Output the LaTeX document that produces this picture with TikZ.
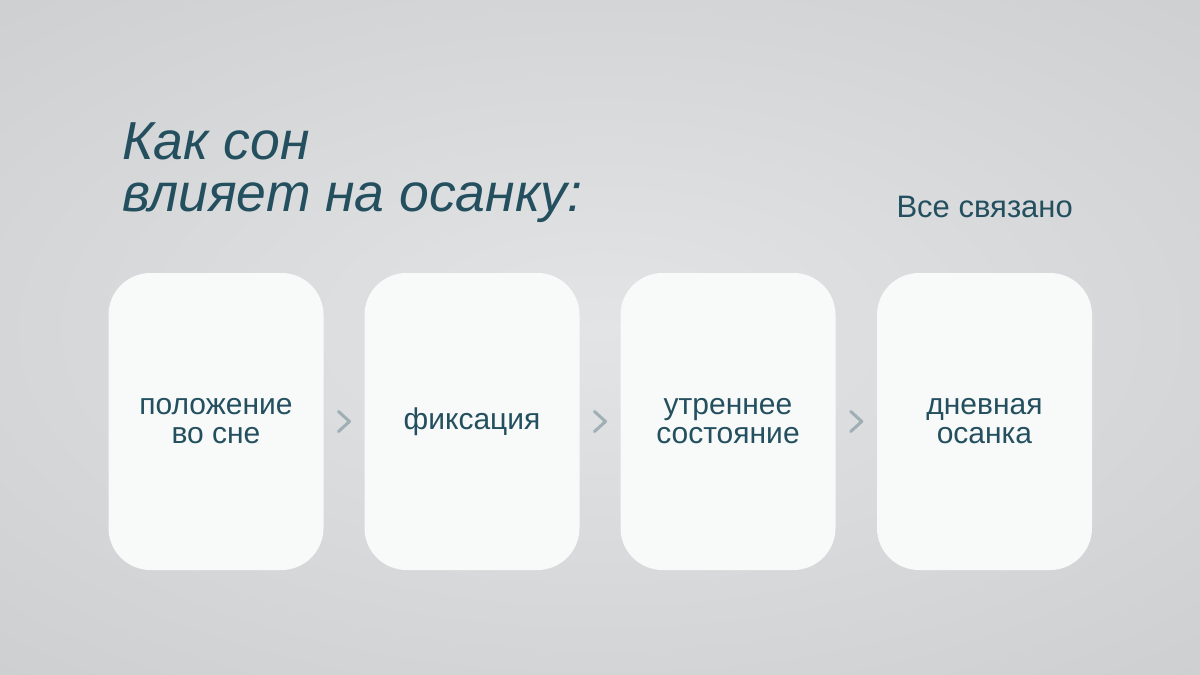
\documentclass[tikz,border=0pt]{standalone}
\usepackage{fontspec}
\setmainfont{Liberation Sans}
\usetikzlibrary{calc}
\definecolor{bgdark}{HTML}{C6C7C8}
\definecolor{bglight}{HTML}{E2E4E6}
\definecolor{cardwhite}{HTML}{F8F9F9}
\definecolor{inkteal}{HTML}{234F5F}
\definecolor{chevgrey}{HTML}{9EAFB5}
\begin{document}
\begin{tikzpicture}[x=1pt, y=-1pt,
    card/.style={fill=cardwhite, rounded corners=42pt, minimum width=215pt, minimum height=297pt,
                 inner sep=0pt, align=center, text=inkteal, font=\fontsize{30}{29}\selectfont},
    chevron/.style={draw=chevgrey, line width=3pt, line cap=round, line join=round}]
			%%%%% BACKGROUND %%%%%
			\useasboundingbox (0, 0) rectangle (1200, 675);
			\begin{scope}
				\clip (0, 0) rectangle (1200, 675);
				\fill[bgdark] (0, 0) rectangle (1200, 675);
				\shade[inner color=bglight, outer color=bgdark] (600, 330) ellipse (1250 and 640);
			\end{scope}
			
			%%%%% TITLE %%%%%
			\node[anchor=north west, inner sep=0pt, align=left, text=inkteal,
			      font=\fontsize{53.5}{52}\selectfont\itshape] (title) at (122, 122) {Как сон\\влияет на осанку:};
			\node[anchor=base east, inner sep=0pt, text=inkteal,
			      font=\fontsize{31}{31}\selectfont] (tagline) at (1073, 217) {Все связано};
			
			%%%%% CARDS %%%%%
			\node[card] (pos) at (216, 421.5) {положение\\во сне};
			\node[card] (fix) at (472, 421.5) {фиксация};
			\node[card] (morning) at (728, 421.5) {утреннее\\состояние};
			\node[card] (day) at (984.5, 421.5) {дневная\\осанка};
			
			%%%%% CHEVRONS %%%%%
			\draw[chevron] ($(pos.east)!0.5!(fix.west) + (-5.5, -10)$) -- ++(11, 10) -- ++(-11, 10);
			\draw[chevron] ($(fix.east)!0.5!(morning.west) + (-5.5, -10)$) -- ++(11, 10) -- ++(-11, 10);
			\draw[chevron] ($(morning.east)!0.5!(day.west) + (-5.5, -10)$) -- ++(11, 10) -- ++(-11, 10);
			%%%%% END %%%%%
\end{tikzpicture}
\end{document}
